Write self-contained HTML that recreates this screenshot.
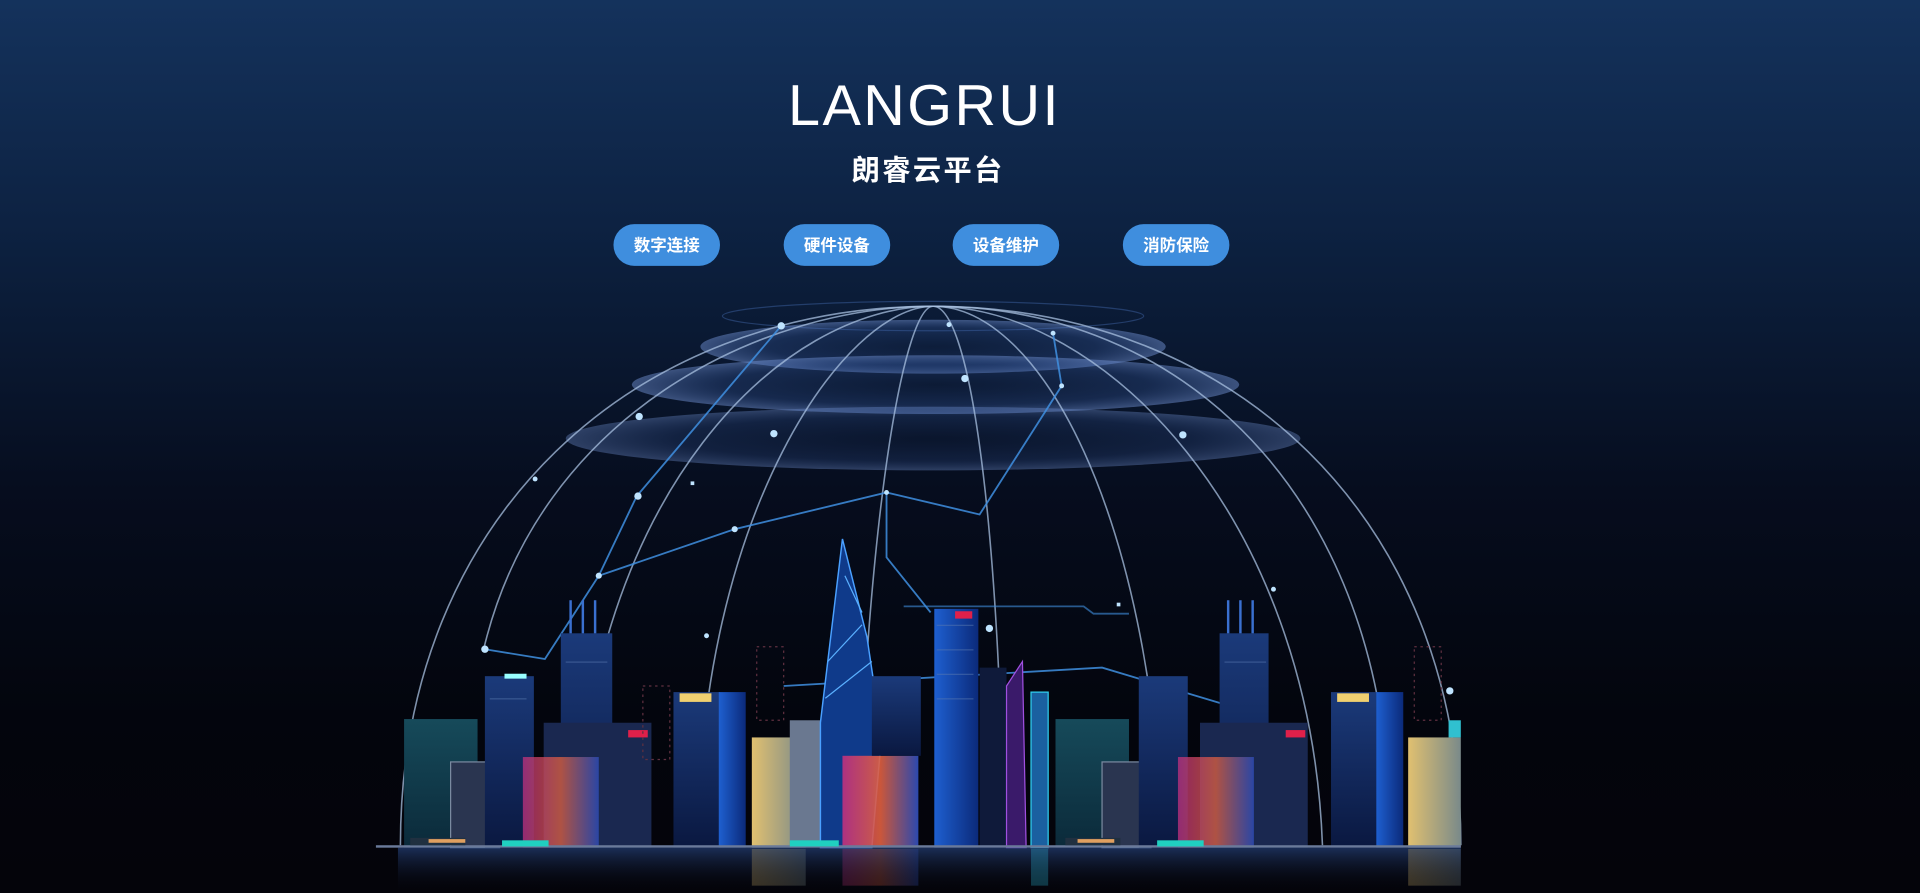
<!DOCTYPE html>
<html><head><meta charset="utf-8"><style>
html,body{margin:0;padding:0;width:1920px;height:893px;overflow:hidden;background:#04050c}
svg{display:block}
</style></head><body>
<svg width="1920" height="893" viewBox="0 0 1568 729" preserveAspectRatio="none" xmlns="http://www.w3.org/2000/svg">
<defs>
<linearGradient id="bg" x1="0" y1="0" x2="0" y2="1">
<stop offset="0" stop-color="#14325c"/>
<stop offset="0.25" stop-color="#0d2242"/>
<stop offset="0.55" stop-color="#060d1e"/>
<stop offset="0.8" stop-color="#03050d"/>
<stop offset="1" stop-color="#04040a"/>
</linearGradient>
<radialGradient id="ring" cx="0.5" cy="0.5" r="0.5">
<stop offset="0" stop-color="#2a4a8a" stop-opacity="0.1"/>
<stop offset="0.7" stop-color="#3a5fa8" stop-opacity="0.28"/>
<stop offset="1" stop-color="#6f8fd0" stop-opacity="0.5"/>
</radialGradient>
<linearGradient id="bA" x1="0" y1="0" x2="0" y2="1"><stop offset="0" stop-color="#1b3a7a"/><stop offset="1" stop-color="#0a1840"/></linearGradient>
<linearGradient id="bB" x1="0" y1="0" x2="1" y2="0"><stop offset="0" stop-color="#1e5fd0"/><stop offset="1" stop-color="#0b2a7a"/></linearGradient>
<linearGradient id="bC" x1="0" y1="0" x2="0" y2="1"><stop offset="0" stop-color="#164a5a"/><stop offset="1" stop-color="#0b2a3a"/></linearGradient>
<linearGradient id="bD" x1="0" y1="0" x2="1" y2="0"><stop offset="0" stop-color="#e0c070"/><stop offset="1" stop-color="#7a8a8a"/></linearGradient>
<linearGradient id="bE" x1="0" y1="0" x2="1" y2="0"><stop offset="0" stop-color="#c03080"/><stop offset="0.5" stop-color="#e06040"/><stop offset="1" stop-color="#3050c0"/></linearGradient>
<linearGradient id="refl" x1="0" y1="0" x2="0" y2="1"><stop offset="0" stop-color="#2a4a8a" stop-opacity="0.6"/><stop offset="1" stop-color="#04040a" stop-opacity="0"/></linearGradient>
</defs>
<rect width="1568" height="729" fill="url(#bg)"/>

<ellipse cx="762" cy="258" rx="172" ry="12" fill="none" stroke="#3b5fa0" stroke-opacity="0.5"/>
<ellipse cx="762" cy="283" rx="190" ry="22" fill="url(#ring)"/>
<ellipse cx="764" cy="314" rx="248" ry="24" fill="url(#ring)"/>
<ellipse cx="762" cy="358" rx="300" ry="26" fill="url(#ring)" opacity="0.75"/>

<g fill="none" stroke="#a8c0e0" stroke-opacity="0.75" stroke-width="1.3">
<path d="M327,690 C327,420 520,250 762,250 C1004,250 1193,420 1193,690"/>
<path d="M395,530 C440,340 620,250 762,250"/>
<path d="M470,690 C480,400 640,250 762,250"/>
<path d="M570,690 C570,420 690,250 762,250"/>
<path d="M700,690 C710,400 740,250 762,250"/>
<path d="M820,690 C815,400 790,250 762,250"/>
<path d="M950,690 C940,420 850,250 762,250"/>
<path d="M1080,690 C1070,420 900,250 762,250"/>
<path d="M1130,600 C1100,380 950,250 762,250"/>
</g>
<g fill="none" stroke="#3f8fe0" stroke-width="1.5" stroke-opacity="0.85">
<polyline points="396,530 445,538 489,470 600,432 724,402 800,420 867,315 860,272"/>
<polyline points="489,470 520,405 638,266"/>
<polyline points="724,402 724,455 760,500"/>
<path d="M640,560 L900,545 L1000,575"/>
<path d="M738,495 L885,495 L893,501 L922,501" stroke-opacity="0.6"/>
</g>
<g fill="#bfe4ff">
<circle cx="638" cy="266" r="3"/><circle cx="775" cy="265" r="2"/><circle cx="860" cy="272" r="2"/>
<circle cx="522" cy="340" r="3"/><circle cx="632" cy="354" r="3"/><circle cx="788" cy="309" r="3"/>
<circle cx="867" cy="315" r="2"/><circle cx="966" cy="355" r="3"/><circle cx="437" cy="391" r="2"/>
<circle cx="521" cy="405" r="3"/><circle cx="600" cy="432" r="2.5"/><circle cx="724" cy="402" r="2"/>
<circle cx="489" cy="470" r="2.5"/><circle cx="396" cy="530" r="3"/><circle cx="808" cy="513" r="3"/>
<circle cx="1040" cy="481" r="2"/><circle cx="1184" cy="564" r="3"/><circle cx="577" cy="519" r="2"/>
<rect x="912" y="492" width="3" height="3"/><rect x="564" y="393" width="3" height="3"/>
</g>

<g>
<rect x="330" y="587" width="60" height="105" fill="url(#bC)"/>
<rect x="368" y="622" width="40" height="70" fill="#2a3550" stroke="#7a8aa0" stroke-width="1"/>
<rect x="396" y="552" width="40" height="140" fill="url(#bA)"/>
<rect x="412" y="550" width="18" height="4" fill="#9ff"/>
<rect x="458" y="517" width="42" height="175" fill="url(#bA)"/>
<rect x="465" y="490" width="2" height="27" fill="#3a70d0"/><rect x="475" y="490" width="2" height="27" fill="#3a70d0"/><rect x="485" y="490" width="2" height="27" fill="#3a70d0"/>
<rect x="444" y="590" width="88" height="102" fill="#1a2850"/>
<rect x="427" y="618" width="62" height="74" fill="url(#bE)" opacity="0.75"/>
<rect x="513" y="596" width="16" height="6" fill="#e0204a"/>
<rect x="550" y="565" width="38" height="127" fill="url(#bA)"/>
<rect x="555" y="566" width="26" height="7" fill="#f0d070"/>
<rect x="587" y="565" width="22" height="127" fill="url(#bB)"/>
<rect x="614" y="602" width="44" height="90" fill="url(#bD)"/>
<rect x="645" y="588" width="40" height="104" fill="#6a7890"/>
<path d="M670,590 L688,440 L708,520 L720,600 L712,692 L670,692 Z" fill="#0f3a8a" stroke="#4aa0ff" stroke-width="1.2"/>
<path d="M676,540 L704,510 M674,570 L712,540 M690,470 L704,500" stroke="#5ab0ff" fill="none"/>
<rect x="688" y="617" width="62" height="75" fill="url(#bE)" opacity="0.9"/>
<rect x="712" y="552" width="40" height="65" fill="url(#bA)"/>
<rect x="763" y="497" width="36" height="195" fill="url(#bB)"/>
<rect x="780" y="499" width="14" height="6" fill="#e0204a"/>
<rect x="800" y="545" width="22" height="147" fill="#0f1a3a"/>
<path d="M822,560 L835,540 L838,692 L822,692 Z" fill="#3a1a6a" stroke="#a050e0"/>
<rect x="842" y="565" width="14" height="127" fill="#1a60a0" stroke="#30d0f0"/>
<rect x="862" y="587" width="60" height="105" fill="url(#bC)"/>
<rect x="900" y="622" width="40" height="70" fill="#2a3550" stroke="#7a8aa0"/>
<rect x="930" y="552" width="40" height="140" fill="url(#bA)"/>
<rect x="996" y="517" width="40" height="175" fill="url(#bA)"/>
<rect x="1002" y="490" width="2" height="27" fill="#3a70d0"/><rect x="1012" y="490" width="2" height="27" fill="#3a70d0"/><rect x="1022" y="490" width="2" height="27" fill="#3a70d0"/>
<rect x="980" y="590" width="88" height="102" fill="#1a2850"/>
<rect x="962" y="618" width="62" height="74" fill="url(#bE)" opacity="0.75"/>
<rect x="1050" y="596" width="16" height="6" fill="#e0204a"/>
<rect x="1087" y="565" width="38" height="127" fill="url(#bA)"/>
<rect x="1092" y="566" width="26" height="7" fill="#f0d070"/>
<rect x="1124" y="565" width="22" height="127" fill="url(#bB)"/>
<rect x="1150" y="602" width="43" height="90" fill="url(#bD)"/>
<rect x="1183" y="588" width="10" height="14" fill="#30c0d0"/>
<g fill="none" stroke="#603040" stroke-dasharray="2 3">
<rect x="618" y="528" width="22" height="60"/>
<rect x="1155" y="528" width="22" height="60"/>
<rect x="525" y="560" width="22" height="60"/>
</g>
<g fill="#5a7ab0" opacity="0.5">
<rect x="765" y="510" width="30" height="1"/><rect x="765" y="530" width="30" height="1"/><rect x="765" y="550" width="30" height="1"/><rect x="765" y="570" width="30" height="1"/>
<rect x="400" y="570" width="30" height="1"/><rect x="462" y="540" width="34" height="1"/><rect x="1000" y="540" width="34" height="1"/>
</g>
<rect x="307" y="690" width="886" height="2" fill="#6a7a9a"/>
<rect x="335" y="684" width="45" height="6" fill="#203040"/><rect x="350" y="685" width="30" height="3" fill="#e0a060"/>
<rect x="410" y="686" width="38" height="5" fill="#20d0c0"/>
<rect x="645" y="686" width="40" height="5" fill="#20d0c0"/>
<rect x="870" y="684" width="45" height="6" fill="#203040"/><rect x="880" y="685" width="30" height="3" fill="#e0a060"/>
<rect x="945" y="686" width="38" height="5" fill="#20d0c0"/>
<rect x="325" y="692" width="868" height="37" fill="url(#refl)"/>
<g opacity="0.25">
<rect x="614" y="693" width="44" height="30" fill="url(#bD)"/>
<rect x="688" y="693" width="62" height="30" fill="url(#bE)"/>
<rect x="842" y="693" width="14" height="30" fill="#30d0f0"/>
<rect x="1150" y="693" width="43" height="30" fill="url(#bD)"/>
</g>
</g>

<text x="755" y="102" text-anchor="middle" fill="#fff" font-family="Liberation Sans, sans-serif" font-size="47" letter-spacing="2">LANGRUI</text>
<text x="758" y="147" text-anchor="middle" fill="#fff" font-family="Liberation Sans, 'Noto Sans CJK SC', sans-serif" font-size="23" font-weight="bold" letter-spacing="2">朗睿云平台</text>
<g font-family="Liberation Sans, 'Noto Sans CJK SC', sans-serif" font-size="13.5" font-weight="bold" fill="#fff" text-anchor="middle">
<rect x="501" y="183" width="87" height="34" rx="17" fill="#3f8ede"/><text x="544.5" y="205">数字连接</text>
<rect x="640" y="183" width="87" height="34" rx="17" fill="#3f8ede"/><text x="683.5" y="205">硬件设备</text>
<rect x="778" y="183" width="87" height="34" rx="17" fill="#3f8ede"/><text x="821.5" y="205">设备维护</text>
<rect x="917" y="183" width="87" height="34" rx="17" fill="#3f8ede"/><text x="960.5" y="205">消防保险</text>
</g>
</svg>
</body></html>
